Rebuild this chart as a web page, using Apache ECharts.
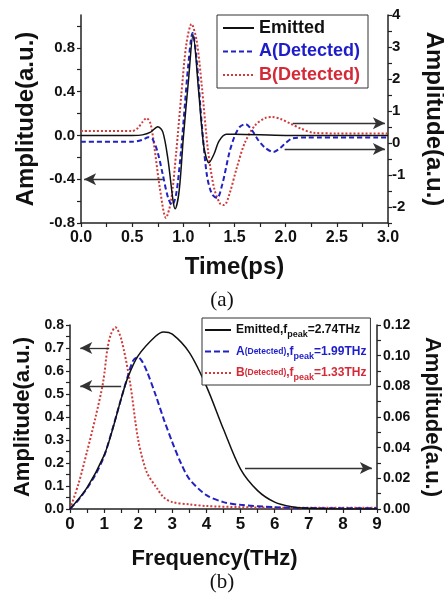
<!DOCTYPE html>
<html><head><meta charset="utf-8">
<script src="https://cdn.jsdelivr.net/npm/echarts/dist/echarts.min.js"></script>
<style>html,body{margin:0;padding:0;background:#fff}#c{width:444px;height:597px}</style>
</head><body><div id="c"></div>
<script>
// ---- (a) time domain ----
const emitT = [0, 0.5, 0.6, 0.68, 0.75, 0.8, 0.85, 0.9, 0.92, 0.96, 1.0, 1.05, 1.095, 1.15, 1.2, 1.25, 1.3, 1.35, 1.42, 1.5, 2.0, 3.0];
const emitV = [0, 0, 0.005, 0.03, 0.08, 0.03, -0.22, -0.6, -0.67, -0.5, -0.02, 0.5, 0.92, 0.4, -0.1, -0.25, -0.17, -0.05, 0.01, 0.01, 0, 0];
const aT = [0, 0.5, 0.6, 0.66, 0.7, 0.75, 0.8, 0.85, 0.89, 0.93, 0.97, 1.0, 1.05, 1.09, 1.13, 1.18, 1.23, 1.28, 1.33, 1.38, 1.45, 1.5, 1.55, 1.61, 1.67, 1.73, 1.8, 1.88, 1.95, 2.0, 2.07, 2.2, 3.0];
const aV = [0.04, 0.04, 0.1, 0.18, 0.12, -0.3, -1.0, -1.7, -1.94, -1.6, -0.5, 0.6, 2.5, 3.44, 2.6, 0.6, -1.0, -1.6, -1.72, -1.3, -0.3, 0.2, 0.5, 0.59, 0.4, 0.1, -0.15, -0.28, -0.15, 0.0, 0.15, 0.17, 0.17];
const bT = [0, 0.5, 0.55, 0.6, 0.64, 0.68, 0.72, 0.77, 0.83, 0.88, 0.93, 0.98, 1.03, 1.08, 1.13, 1.18, 1.24, 1.3, 1.36, 1.4, 1.45, 1.52, 1.6, 1.7, 1.8, 1.87, 1.95, 2.05, 2.15, 2.27, 2.5, 3.0];
const bV = [0.375, 0.375, 0.45, 0.65, 0.78, 0.6, -0.2, -1.4, -2.34, -1.8, -0.3, 1.5, 3.1, 3.72, 3.2, 1.8, -0.2, -1.4, -1.9, -1.94, -1.6, -0.8, 0.0, 0.55, 0.78, 0.81, 0.75, 0.6, 0.45, 0.32, 0.3, 0.3];
const namesA = ['Emitted', 'A(Detected)', 'B(Detected)'];

// ---- (b) frequency domain ----
const emitF = [0, 0.5, 1, 1.25, 1.5, 1.7, 2, 2.5, 2.74, 3, 3.5, 4, 4.5, 5, 5.5, 6, 6.5, 7, 8, 9];
const emitS = [0, 0.014, 0.035, 0.052, 0.072, 0.086, 0.1, 0.1125, 0.1155, 0.114, 0.102, 0.08, 0.052, 0.026, 0.012, 0.0045, 0.0015, 0.0005, 0, 0];
const aF = [0, 0.25, 0.5, 0.75, 1, 1.25, 1.5, 1.7, 1.85, 1.99, 2.1, 2.25, 2.5, 2.75, 3.0, 3.25, 3.5, 4, 4.5, 5, 6, 7, 8, 9];
const aS = [0, 0.04, 0.09, 0.15, 0.23, 0.35, 0.48, 0.58, 0.645, 0.66, 0.645, 0.6, 0.5, 0.39, 0.29, 0.2, 0.13, 0.06, 0.03, 0.018, 0.008, 0.004, 0.003, 0.003];
const bF = [0, 0.25, 0.5, 0.75, 0.97, 1.1, 1.2, 1.33, 1.5, 1.76, 2.0, 2.25, 2.55, 2.75, 3.0, 3.5, 4, 5, 6, 7, 8, 9];
const bS = [0, 0.11, 0.25, 0.4, 0.55, 0.7, 0.76, 0.79, 0.74, 0.55, 0.3, 0.16, 0.09, 0.05, 0.03, 0.02, 0.013, 0.008, 0.006, 0.005, 0.005, 0.005];
const namesB = ['Emitted', 'A', 'B'];
const peaksB = ['2.74', '1.99', '1.33'];

// annotation arrows [x1, y1, x2, y2] in data units
const arrowsTopLeft = [[0.8, -0.4, 0.03, -0.4]];
const arrowsTopRight = [[2.07, 0.62, 2.97, 0.62], [1.99, -0.19, 2.97, -0.19]];
const arrowsBotLeft = [[1.15, 0.7, 0.3, 0.7], [1.5, 0.535, 0.3, 0.535]];
const arrowsBotRight = [[5.13, 0.0267, 8.85, 0.0267]];

const FONT = 'Arial, "Liberation Sans", Helvetica, sans-serif';
const NARROW = '"Liberation Sans Narrow", "Arial Narrow", Arial, "Liberation Sans", sans-serif';
const BLACK = '#111', BLUE = '#2222c0', RED = '#d03a3a';
const BLUE_T = '#1d1dc9', RED_T = '#d42a38';

const pairs = (xs, ys) => xs.map((x, i) => [x, ys[i]]);
const arrowData = arr => arr.map(a => [{coord: [a[0], a[1]]}, {coord: [a[2], a[3]]}]);
const markArrows = arr => ({
  silent: true, animation: false, symbol: ['none', 'arrow'], symbolSize: [9, 12],
  label: {show: false}, lineStyle: {color: '#333', width: 1.3, type: 'solid'},
  emphasis: {disabled: true}, data: arrowData(arr)
});

function axisBase(extra) {
  return Object.assign({
    type: 'value',
    axisLine: {show: true, onZero: false, lineStyle: {color: '#222', width: 1.5}},
    axisTick: {show: true, inside: false, length: 4, lineStyle: {color: '#222', width: 1.2}},
    splitLine: {show: false},
    nameTextStyle: {fontFamily: FONT, fontWeight: 'bold', color: '#111'},
  }, extra);
}
const lab = (size, margin, fmt) => ({fontFamily: FONT, fontWeight: 'bold', fontSize: size, color: '#111', margin: margin, formatter: fmt});
const SUB = 12, SUBS = 9;

const option = {
  animation: false,
  backgroundColor: '#fff',
  grid: [
    {left: 81, top: 15, width: 307, height: 208, containLabel: false, outerBoundsMode: 'none'},
    {left: 70, top: 325, width: 307, height: 184, containLabel: false, outerBoundsMode: 'none'}
  ],
  xAxis: [
    axisBase({gridIndex: 0, min: 0, max: 3, interval: 0.25,
      axisLabel: lab(16, 7, v => (Math.round(v * 100) % 50 === 0) ? v.toFixed(1) : ''),
      name: 'Time(ps)', nameLocation: 'middle', nameGap: 32,
      nameTextStyle: {fontFamily: FONT, fontWeight: 'bold', fontSize: 24, color: '#111'}}),
    axisBase({gridIndex: 1, min: 0, max: 9, interval: 0.5,
      axisLabel: lab(17, 7, v => (Math.round(v * 10) % 10 === 0) ? String(v) : ''),
      name: 'Frequency(THz)', nameLocation: 'middle', nameGap: 39,
      nameTextStyle: {fontFamily: FONT, fontWeight: 'bold', fontSize: 22, color: '#111', padding: [0, 18, 0, 0]}})
  ],
  yAxis: [
    axisBase({gridIndex: 0, position: 'left', min: -0.8, max: 1.1, interval: 0.2,
      axisTick: {show: true, length: 4, customValues: [-0.8, -0.6, -0.4, -0.2, 0, 0.2, 0.4, 0.6, 0.8, 1.0], lineStyle: {color: '#222', width: 1.2}},
      axisLabel: Object.assign(lab(15, 6, v => v.toFixed(1)), {customValues: [-0.8, -0.4, 0, 0.4, 0.8]}),
      name: 'Amplitude(a.u.)', nameLocation: 'middle', nameGap: 40,
      nameTextStyle: {fontFamily: FONT, fontWeight: 'bold', fontSize: 24, color: '#111'}}),
    axisBase({gridIndex: 0, position: 'right', min: -2.5, max: 4, interval: 0.5,
      axisLabel: lab(15, 4, v => Number.isInteger(v) ? String(v) : ''),
      name: 'Amplitude(a.u.)', nameLocation: 'middle', nameGap: 34, nameRotate: -90,
      nameTextStyle: {fontFamily: FONT, fontWeight: 'bold', fontSize: 24, color: '#111'}}),
    axisBase({gridIndex: 1, position: 'left', min: 0, max: 0.8, interval: 0.05,
      axisLabel: lab(14, 6, v => (Math.round(v * 100) % 10 === 0) ? v.toFixed(1) : ''),
      name: 'Amplitude(a.u.)', nameLocation: 'middle', nameGap: 36,
      nameTextStyle: {fontFamily: FONT, fontWeight: 'bold', fontSize: 22, color: '#111'}}),
    axisBase({gridIndex: 1, position: 'right', min: 0, max: 0.12, interval: 0.01,
      axisLabel: lab(14, 6, v => (Math.round(v * 100) % 2 === 0) ? v.toFixed(2) : ''),
      name: 'Amplitude(a.u.)', nameLocation: 'middle', nameGap: 44, nameRotate: -90,
      nameTextStyle: {fontFamily: FONT, fontWeight: 'bold', fontSize: 22, color: '#111'}})
  ],
  legend: [
    {
      data: [
        {name: namesA[0], textStyle: {color: BLACK}},
        {name: namesA[1], textStyle: {color: BLUE_T}},
        {name: namesA[2], textStyle: {color: RED_T}}
      ],
      left: 217, top: 15, orient: 'vertical', itemGap: 2.5, itemWidth: 31, itemHeight: 14,
      padding: [2.5, 8, 2.5, 5], borderColor: '#333', borderWidth: 1, backgroundColor: '#fff',
      selectedMode: false, itemStyle: {opacity: 0},
      textStyle: {fontFamily: FONT, fontWeight: 'bold', fontSize: 18, lineHeight: 21}
    },
    {
      data: namesB.map(n => n + '_b'),
      left: 202, top: 318, orient: 'vertical', itemGap: 2.5, itemWidth: 26, itemHeight: 14,
      padding: [2.5, 4, 2.5, 2], borderColor: '#333', borderWidth: 1, backgroundColor: '#fff',
      selectedMode: false, itemStyle: {opacity: 0},
      formatter: function (name) {
        const i = namesB.indexOf(name.replace('_b', ''));
        const p = ['e', 'a', 'r'][i];
        const head = i === 0 ? '{' + p + '|Emitted,f}' : '{' + p + '|' + namesB[i] + '}{' + p + 'd|(Detected)}{' + p + '|,f}';
        return head + '{' + p + 's|peak}{' + p + '|=' + peaksB[i] + 'THz}';
      },
      textStyle: {
        fontFamily: NARROW, fontWeight: 'bold', fontSize: SUB, lineHeight: 19,
        rich: {
          e: {color: BLACK, fontFamily: NARROW, fontWeight: 'bold', fontSize: SUB, lineHeight: 19},
          es: {color: BLACK, fontFamily: NARROW, fontWeight: 'bold', fontSize: SUBS, lineHeight: 10, verticalAlign: 'bottom'},
          a: {color: BLUE_T, fontFamily: NARROW, fontWeight: 'bold', fontSize: SUB, lineHeight: 19},
          ad: {color: BLUE_T, fontFamily: NARROW, fontWeight: 'bold', fontSize: 8.5, lineHeight: 19},
          as: {color: BLUE_T, fontFamily: NARROW, fontWeight: 'bold', fontSize: SUBS, lineHeight: 10, verticalAlign: 'bottom'},
          r: {color: RED_T, fontFamily: NARROW, fontWeight: 'bold', fontSize: SUB, lineHeight: 19},
          rd: {color: RED_T, fontFamily: NARROW, fontWeight: 'bold', fontSize: 8.5, lineHeight: 19},
          rs: {color: RED_T, fontFamily: NARROW, fontWeight: 'bold', fontSize: SUBS, lineHeight: 10, verticalAlign: 'bottom'}
        }
      }
    }
  ],
  series: [
    {name: namesA[0], type: 'line', xAxisIndex: 0, yAxisIndex: 0, data: pairs(emitT, emitV), symbol: 'none', smooth: 0.3,
      lineStyle: {color: BLACK, width: 1.5}, itemStyle: {color: BLACK}, markLine: markArrows(arrowsTopLeft), z: 3},
    {name: namesA[1], type: 'line', xAxisIndex: 0, yAxisIndex: 1, data: pairs(aT, aV), symbol: 'none', smooth: 0.3,
      lineStyle: {color: BLUE, width: 2, type: [5, 3]}, itemStyle: {color: BLUE}, markLine: markArrows(arrowsTopRight), z: 2},
    {name: namesA[2], type: 'line', xAxisIndex: 0, yAxisIndex: 1, data: pairs(bT, bV), symbol: 'none', smooth: 0.3,
      lineStyle: {color: RED, width: 2, type: [2, 2]}, itemStyle: {color: RED}, z: 1},
    {name: namesB[0] + '_b', type: 'line', xAxisIndex: 1, yAxisIndex: 3, data: pairs(emitF, emitS), symbol: 'none', smooth: 0.3,
      lineStyle: {color: BLACK, width: 1.5}, itemStyle: {color: BLACK}, markLine: markArrows(arrowsBotRight), z: 3},
    {name: namesB[1] + '_b', type: 'line', xAxisIndex: 1, yAxisIndex: 2, data: pairs(aF, aS), symbol: 'none', smooth: 0.3,
      lineStyle: {color: BLUE, width: 2, type: [6, 3]}, itemStyle: {color: BLUE}, markLine: markArrows(arrowsBotLeft), z: 2},
    {name: namesB[2] + '_b', type: 'line', xAxisIndex: 1, yAxisIndex: 2, data: pairs(bF, bS), symbol: 'none', smooth: 0.3,
      lineStyle: {color: RED, width: 2, type: [2, 2]}, itemStyle: {color: RED}, z: 1}
  ],
  graphic: [
    {type: 'text', left: 'center', top: 290, style: {text: '(a)', font: '21px "Liberation Serif", "Times New Roman", serif', fill: '#111'}},
    {type: 'text', left: 'center', top: 572, style: {text: '(b)', font: '21px "Liberation Serif", "Times New Roman", serif', fill: '#111'}}
  ]
};
const chart = echarts.init(document.getElementById('c'), null, {renderer: 'canvas'});
chart.setOption(option);
</script></body></html>
